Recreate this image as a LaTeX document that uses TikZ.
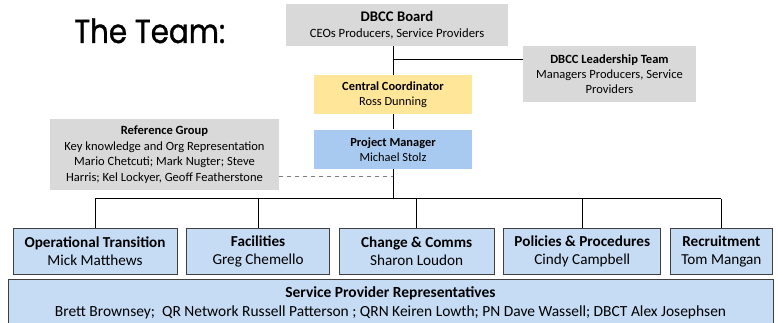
\documentclass[tikz,border=0pt]{standalone}
\usepackage{fontspec}
\setmainfont{Carlito}
\newfontfamily\titlefont[FakeBold=1,FakeStretch=0.88]{Poppins}
\usetikzlibrary{positioning}
\definecolor{boardgrey}{HTML}{D9D9D9}
\definecolor{coordyellow}{HTML}{FFE699}
\definecolor{pmblue}{HTML}{A9CAF0}
\definecolor{teamblue}{HTML}{C6DBF4}
\definecolor{boxedge}{HTML}{404040}
\definecolor{dashgrey}{HTML}{7F7F7F}
\newcommand{\boxhead}[2]{{\fontsize{#1}{12}\selectfont\bfseries #2}}

\begin{document}
\begin{tikzpicture}[x=0.75pt,y=-0.75pt,
  every node/.style={align=center,inner sep=0pt},
  greybox/.style={fill=boardgrey,font=\fontsize{9.4}{11.6}\selectfont},
  leadbox/.style={fill=#1,font=\fontsize{9.3}{11.3}\selectfont,minimum width=118.5pt,minimum height=29.5pt},
  teambox/.style={fill=teamblue,draw=boxedge,line width=0.7pt,minimum height=35pt,font=\fontsize{11.4}{13.4}\selectfont},
  link/.style={draw=black,line width=0.75pt},
  node distance=6.5pt]
\useasboundingbox (0,0) rectangle (778,323);

% title
\node[anchor=base west,font=\titlefont\fontsize{25}{30}\selectfont] (title) at (74,43) {The Team:};

% governance
\node[greybox,minimum width=166.5pt,minimum height=31.5pt,font=\fontsize{9.5}{12}\selectfont] (board) at (397,25)
  {\boxhead{11}{DBCC Board}\\CEOs Producers, Service Providers};
\node[greybox,minimum width=129.75pt,minimum height=42pt,font=\fontsize{9.4}{11.3}\selectfont] (lead) at (609.5,74)
  {\textbf{DBCC Leadership Team}\\Managers Producers, Service\\Providers};
\node[leadbox=coordyellow] (coord) at (393,94.5) {\textbf{Central Coordinator}\\Ross Dunning};
\node[leadbox=pmblue,below=11.25pt of coord] (pm) {\textbf{Project Manager}\\Michael Stolz};
\node[greybox,minimum width=171.75pt,minimum height=53.25pt] (ref) at (164.5,154.5)
  {\textbf{Reference Group}\\Key knowledge and Org Representation\\Mario Chetcuti; Mark Nugter; Steve\\Harris; Kel Lockyer, Geoff Featherstone};

% workstreams
\node[teambox,minimum width=123pt] (ops) at (95,251.5) {\textbf{Operational Transition}\\Mick Matthews};
\node[teambox,minimum width=107.25pt,right=of ops] (fac) {\textbf{Facilities}\\Greg Chemello};
\node[teambox,minimum width=116.25pt,right=of fac] (chg) {\textbf{Change \& Comms}\\Sharon Loudon};
\node[teambox,minimum width=117.75pt,right=of chg] (pol) {\textbf{Policies \& Procedures}\\Cindy Campbell};
\node[teambox,minimum width=76.5pt,right=of pol] (rec) {\textbf{Recruitment}\\Tom Mangan};
\node[teambox,minimum width=573.75pt,minimum height=36pt,font=\fontsize{11.6}{14.3}\selectfont] (spr) at (390.5,303)
  {\textbf{Service Provider Representatives}\\Brett Brownsey;\ \ QR Network Russell Patterson ; QRN Keiren Lowth; PN Dave Wassell; DBCT Alex Josephsen};

% connectors
\coordinate (ljoin) at (393,60);
\coordinate (rjoin) at (393,177);
\coordinate (bus) at (393,199);
\draw[link] (board.south -| coord.north) -- (coord.north);
\draw[link] (ljoin) -- (ljoin -| lead.west);
\draw[link] (coord) -- (pm);
\draw[link] (pm.south) -- (bus);
\draw[dashgrey,line width=0.75pt,dashed] (rjoin -| ref.east) -- (rjoin);
\draw[link] (bus -| ops.north) -- (bus -| rec.north);
\foreach \b in {ops,fac,chg,pol,rec}
  \draw[link] (bus -| \b.north) -- (\b.north);
\end{tikzpicture}
\end{document}
